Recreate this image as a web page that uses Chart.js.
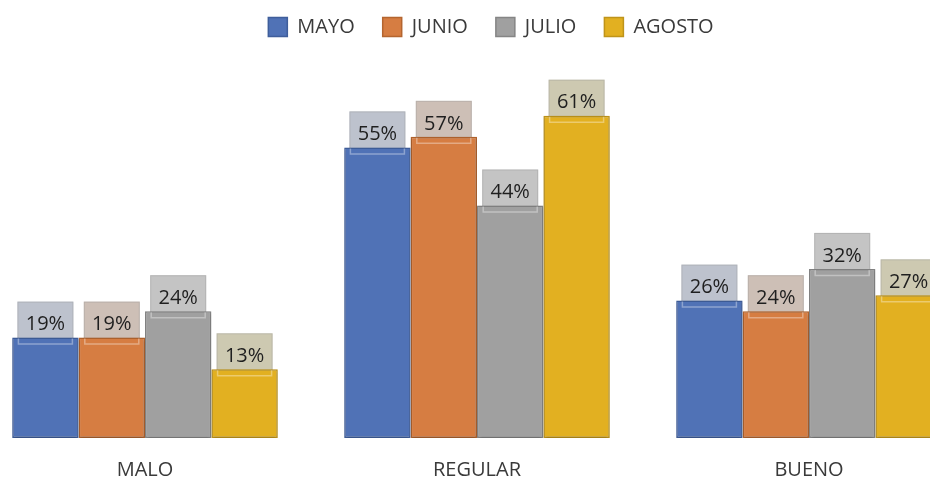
<!DOCTYPE html>
<html>
<head>
<meta charset="utf-8">
<script src="https://cdn.jsdelivr.net/npm/chart.js@4/dist/chart.umd.min.js"></script>
<style>
  html, body { margin: 0; padding: 0; background: #fff; overflow: hidden; }
  body { width: 930px; height: 477px; position: relative; }
  #wrap { position: absolute; left: -21px; top: 0; width: 1024px; height: 477px; }
</style>
</head>
<body>
<div id="wrap"><canvas id="c" width="1024" height="477"></canvas></div>
<script>
// Survey ratings per month (percent)
const categories = ['MALO', 'REGULAR', 'BUENO'];
const months = ['MAYO', 'JUNIO', 'JULIO', 'AGOSTO'];
const mayo   = [19, 55, 26];
const junio  = [19, 57, 24];
const julio  = [24, 44, 32];
const agosto = [13, 61, 27];

const fills   = ['#5072b6', '#d67d42', '#a0a0a0', '#e2b021'];
const borders = ['#3f5e9b', '#b4652f', '#858585', '#bf941a'];
const tints   = ['#bdc2cd', '#cdbfb6', '#c4c4c4', '#cdc9b1'];

const FONT = '"Open Sans", "Liberation Sans", sans-serif';

// Boxed value labels sitting on top of each bar
const labelBoxes = {
  id: 'labelBoxes',
  beforeDatasetsDraw(chart) {
    const ctx = chart.ctx;
    chart.data.datasets.forEach((ds, di) => {
      chart.getDatasetMeta(di).data.forEach(el => {
        ctx.save();
        ctx.fillStyle = tints[di];
        ctx.fillRect(el.x - 28, el.y - 36, 56, 43);
        ctx.strokeStyle = 'rgba(150,150,150,0.35)';
        ctx.lineWidth = 1;
        ctx.strokeRect(el.x - 27.5, el.y - 35.5, 55, 42);
        ctx.restore();
      });
    });
  },
  afterDatasetsDraw(chart) {
    const ctx = chart.ctx;
    chart.data.datasets.forEach((ds, di) => {
      chart.getDatasetMeta(di).data.forEach((el, i) => {
        ctx.save();
        ctx.strokeStyle = 'rgba(255,255,255,0.35)';
        ctx.lineWidth = 1.5;
        ctx.beginPath();
        ctx.moveTo(el.x - 27, el.y + 1);
        ctx.lineTo(el.x - 27, el.y + 6.5);
        ctx.lineTo(el.x + 27, el.y + 6.5);
        ctx.lineTo(el.x + 27, el.y + 1);
        ctx.stroke();
        ctx.fillStyle = '#1f1f1f';
        ctx.font = '20px ' + FONT;
        ctx.textAlign = 'center';
        ctx.textBaseline = 'middle';
        ctx.fillText(ds.data[i] + '%', el.x, el.y - 13);
        ctx.restore();
      });
    });
  }
};

// Soft drop shadow under the bars
const barShadow = {
  id: 'barShadow',
  beforeDatasetDraw(chart) {
    const ctx = chart.ctx;
    ctx.save();
    ctx.shadowColor = 'rgba(0,0,0,0.25)';
    ctx.shadowBlur = 3;
    ctx.shadowOffsetY = 1;
  },
  afterDatasetDraw(chart) {
    chart.ctx.restore();
  }
};

const series = [mayo, junio, julio, agosto];

new Chart(document.getElementById('c'), {
  type: 'bar',
  data: {
    labels: categories,
    datasets: months.map((m, i) => ({
      label: m,
      data: series[i],
      backgroundColor: fills[i],
      borderColor: borders[i],
      borderWidth: 1.5,
      borderSkipped: false
    }))
  },
  options: {
    responsive: false,
    animation: false,
    devicePixelRatio: 1,
    layout: { padding: { top: -11, left: 0, right: 0, bottom: 0 } },
    datasets: { bar: { categoryPercentage: 0.8, barPercentage: 1.0 } },
    plugins: {
      tooltip: { enabled: false },
      legend: {
        position: 'top',
        align: 'center',
        labels: {
          boxWidth: 19,
          boxHeight: 19,
          padding: 28,
          color: '#3a3a3a',
          font: { family: FONT, size: 20 }
        }
      }
    },
    scales: {
      x: {
        grid: { display: false, drawTicks: false },
        border: { display: false },
        ticks: {
          color: '#3a3a3a',
          padding: 20,
          font: { family: FONT, size: 20 }
        },
        afterFit(s) { s.height = 39; }
      },
      y: {
        position: 'right',
        min: 0,
        max: 74,
        grid: { display: false, drawTicks: false },
        border: { display: false },
        ticks: { display: false },
        afterFit(s) { s.width = 28; }
      }
    }
  },
  plugins: [barShadow, labelBoxes]
});
</script>
</body>
</html>
